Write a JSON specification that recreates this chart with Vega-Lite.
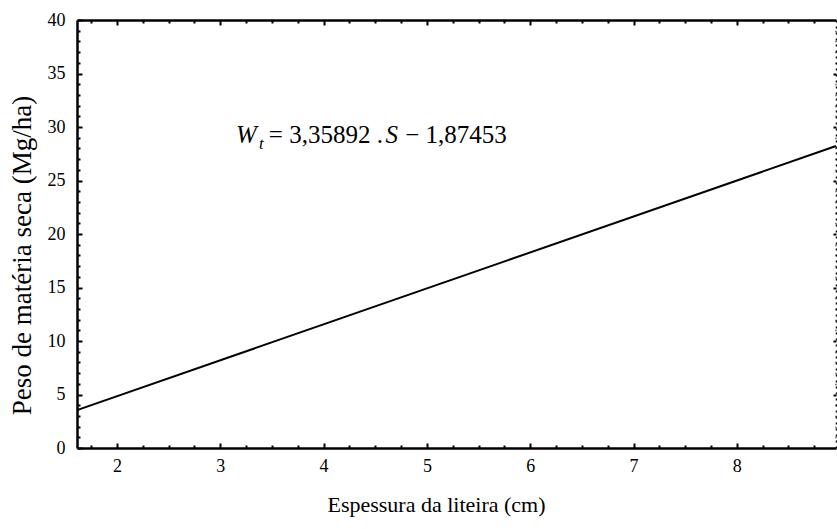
{
  "$schema": "https://vega.github.io/schema/vega-lite/v6.json",
  "autosize": "none",
  "width": 759,
  "height": 428,
  "padding": {"left": 77, "top": 20, "right": 1, "bottom": 81},
  "background": "white",
  "config": {
    "view": {"stroke": null},
    "font": "Liberation Serif",
    "text": {"font": "Liberation Serif"},
    "axis": {"grid": false, "domainColor": "black", "tickColor": "black", "labelColor": "black", "titleColor": "black", "labelFont": "Liberation Serif", "titleFont": "Liberation Serif", "titleFontWeight": "normal"}
  },
  "datasets": {
    "fit": [
      {"espessura": 1.613, "peso": 3.54},
      {"espessura": 8.96, "peso": 28.22}
    ],
    "eq": [
      {"part": "W", "x": 3.152, "y": 28.5},
      {"part": "t", "x": 3.375, "y": 27.94},
      {"part": "= 3,35892 .", "x": 3.47, "y": 28.5},
      {"part": "S", "x": 4.6, "y": 28.5},
      {"part": "− 1,87453", "x": 4.79, "y": 28.5}
    ]
  },
  "resolve": {"axis": {"x": "independent", "y": "independent"}},
  "layer": [
    {
      "data": {"name": "fit"},
      "mark": {"type": "line", "color": "black", "strokeWidth": 2},
      "encoding": {
        "x": {"field": "espessura", "type": "quantitative", "scale": {"domain": [1.613, 8.96], "nice": false, "zero": false},
          "axis": {"orient": "bottom", "values": [2, 3, 4, 5, 6, 7, 8, 9], "tickSize": -5, "tickWidth": 2, "domainWidth": 2.5, "labelFont": "Liberation Serif", "labelFontSize": 18, "labelPadding": 14, "labelFlush": false, "labelOverlap": false, "title": "Espessura da liteira (cm)", "titleFont": "Liberation Serif", "titleFontSize": 22, "titleX": 359, "titleY": 46, "titleAlign": "center", "titleBaseline": "top"}},
        "y": {"field": "peso", "type": "quantitative", "scale": {"domain": [0, 40], "nice": false, "zero": false},
          "axis": {"orient": "left", "values": [0, 5, 10, 15, 20, 25, 30, 35, 40], "tickSize": -5, "tickWidth": 2, "domainWidth": 2.5, "labelFont": "Liberation Serif", "labelFontSize": 18, "labelPadding": 17, "labelFlush": false, "labelOverlap": false, "title": "Peso de matéria seca (Mg/ha)", "titleFont": "Liberation Serif", "titleFontSize": 27, "titleX": -41, "titleY": 235, "titleAlign": "center", "titleBaseline": "bottom", "titleAngle": -90}}
      }
    },
    {
      "data": {"name": "fit"},
      "mark": {"type": "line", "strokeOpacity": 0},
      "encoding": {
        "x": {"field": "espessura", "type": "quantitative", "scale": {"domain": [1.613, 8.96], "nice": false, "zero": false},
          "axis": {"orient": "bottom", "values": [1.75, 2.25, 2.5, 2.75, 3.25, 3.5, 3.75, 4.25, 4.5, 4.75, 5.25, 5.5, 5.75, 6.25, 6.5, 6.75, 7.25, 7.5, 7.75, 8.25, 8.5, 8.75], "tickSize": -3, "tickWidth": 2, "domain": false, "labels": false, "title": null}},
        "y": {"field": "peso", "type": "quantitative", "scale": {"domain": [0, 40], "nice": false, "zero": false},
          "axis": {"orient": "left", "values": [1, 2, 3, 4, 6, 7, 8, 9, 11, 12, 13, 14, 16, 17, 18, 19, 21, 22, 23, 24, 26, 27, 28, 29, 31, 32, 33, 34, 36, 37, 38, 39], "tickSize": -3, "tickWidth": 2, "domain": false, "labels": false, "title": null}}
      }
    },
    {
      "data": {"name": "fit"},
      "mark": {"type": "line", "strokeOpacity": 0},
      "encoding": {
        "x": {"field": "espessura", "type": "quantitative", "scale": {"domain": [1.613, 8.96], "nice": false, "zero": false},
          "axis": {"orient": "top", "values": [2, 3, 4, 5, 6, 7, 8], "tickSize": -5, "tickWidth": 2, "domainWidth": 2.5, "labels": false, "title": null}},
        "y": {"field": "peso", "type": "quantitative", "scale": {"domain": [0, 40], "nice": false, "zero": false},
          "axis": {"orient": "right", "values": [5, 10, 15, 20, 25, 30, 35], "tickSize": -3, "tickWidth": 2, "domainWidth": 1.5, "domainDash": [2, 4], "labels": false, "title": null}}
      }
    },
    {
      "data": {"name": "fit"},
      "mark": {"type": "line", "strokeOpacity": 0},
      "encoding": {
        "x": {"field": "espessura", "type": "quantitative", "scale": {"domain": [1.613, 8.96], "nice": false, "zero": false},
          "axis": {"orient": "top", "values": [1.75, 2.25, 2.5, 2.75, 3.25, 3.5, 3.75, 4.25, 4.5, 4.75, 5.25, 5.5, 5.75, 6.25, 6.5, 6.75, 7.25, 7.5, 7.75, 8.25, 8.5, 8.75], "tickSize": -3, "tickWidth": 2, "domain": false, "labels": false, "title": null}},
        "y": {"field": "peso", "type": "quantitative", "scale": {"domain": [0, 40], "nice": false, "zero": false},
          "axis": {"orient": "right", "values": [1, 2, 3, 4, 6, 7, 8, 9, 11, 12, 13, 14, 16, 17, 18, 19, 21, 22, 23, 24, 26, 27, 28, 29, 31, 32, 33, 34, 36, 37, 38, 39], "tickSize": -1, "tickWidth": 1.5, "domain": false, "labels": false, "title": null}}
      }
    },
    {
      "data": {"name": "eq"},
      "transform": [{"filter": "datum.part === 'W' || datum.part === 'S'"}],
      "mark": {"type": "text", "fontStyle": "italic", "fontSize": 25, "align": "left", "baseline": "alphabetic", "font": "Liberation Serif", "color": "black"},
      "encoding": {
        "x": {"field": "x", "type": "quantitative", "axis": null},
        "y": {"field": "y", "type": "quantitative", "axis": null},
        "text": {"field": "part"}
      }
    },
    {
      "data": {"name": "eq"},
      "transform": [{"filter": "datum.part === 't'"}],
      "mark": {"type": "text", "fontStyle": "italic", "fontSize": 17, "align": "left", "baseline": "alphabetic", "font": "Liberation Serif", "color": "black"},
      "encoding": {
        "x": {"field": "x", "type": "quantitative", "axis": null},
        "y": {"field": "y", "type": "quantitative", "axis": null},
        "text": {"field": "part"}
      }
    },
    {
      "data": {"name": "eq"},
      "transform": [{"filter": "datum.part !== 'W' && datum.part !== 'S' && datum.part !== 't'"}],
      "mark": {"type": "text", "fontSize": 25, "align": "left", "baseline": "alphabetic", "font": "Liberation Serif", "color": "black"},
      "encoding": {
        "x": {"field": "x", "type": "quantitative", "axis": null},
        "y": {"field": "y", "type": "quantitative", "axis": null},
        "text": {"field": "part"}
      }
    }
  ]
}
